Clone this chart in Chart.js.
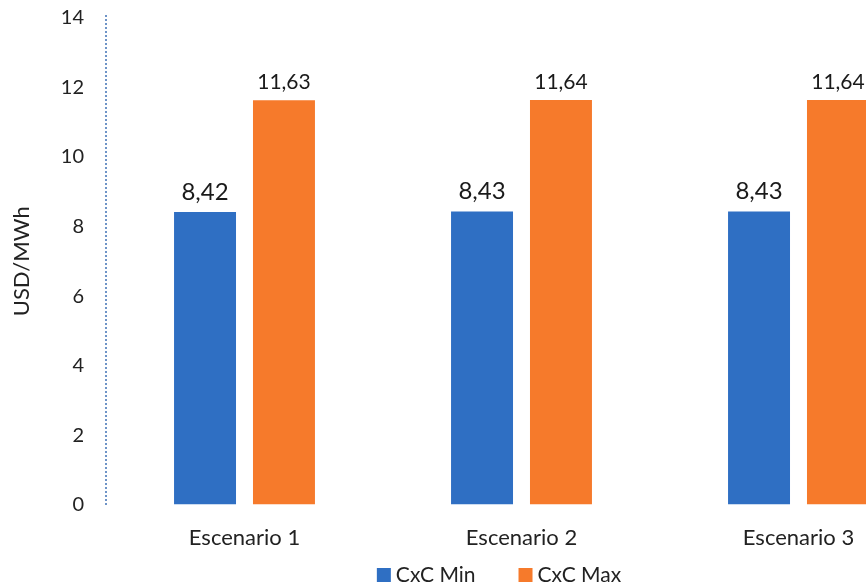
<!DOCTYPE html>
<html><head><meta charset="utf-8">
<script src="https://cdn.jsdelivr.net/npm/chart.js@4.4.0/dist/chart.umd.min.js"></script>
<style>html,body{margin:0;padding:0;overflow:hidden;background:#fff;width:866px;height:586px}canvas{display:block}</style>
</head><body>
<canvas id="c" width="1000" height="586"></canvas>
<script>
const categories = ["Escenario 1", "Escenario 2", "Escenario 3"];
const cxcMin = [8.42, 8.43, 8.43];
const cxcMax = [11.63, 11.64, 11.64];
const seriesNames = ["CxC Min", "CxC Max"];
const yTicks = [0, 2, 4, 6, 8, 10, 12, 14];

const FONT = "Lato, 'Open Sans', sans-serif";
const fmt = v => v.toFixed(2).replace('.', ',');

const labelPlugin = {
  id: 'valLabels',
  afterDatasetsDraw(chart) {
    const ctx = chart.ctx;
    ctx.save();
    ctx.fillStyle = '#1a1a1a';
    ctx.textAlign = 'center';
    ctx.textBaseline = 'middle';
    chart.data.datasets.forEach((ds, di) => {
      const meta = chart.getDatasetMeta(di);
      ctx.font = (di === 0 ? '24px ' : '21px ') + FONT;
      meta.data.forEach((bar, i) => {
        ctx.fillText(fmt(ds.data[i]), bar.x, bar.y - (di === 0 ? 20 : 18));
      });
    });
    ctx.restore();
  }
};

const axisLegendPlugin = {
  id: 'axisLegend',
  afterDraw(chart) {
    const ctx = chart.ctx;
    const y = chart.scales.y;
    ctx.save();
    ctx.strokeStyle = '#3f72b5';
    ctx.lineWidth = 1.5;
    ctx.setLineDash([2, 2]);
    ctx.beginPath();
    ctx.moveTo(y.right, y.top - 3);
    ctx.lineTo(y.right, y.bottom + 2);
    ctx.stroke();
    ctx.setLineDash([]);
    ctx.font = '21px ' + FONT;
    ctx.textBaseline = 'middle';
    ctx.textAlign = 'left';
    const box = 14, gapText = 5, gapItem = 43;
    const items = chart.data.datasets.map(d => ({ text: d.label, color: d.backgroundColor, w: ctx.measureText(d.label).width }));
    const total = items.reduce((s, it) => s + box + gapText + it.w, 0) + gapItem * (items.length - 1);
    let x = 499 - total / 2;
    const cy = 575;
    items.forEach(it => {
      ctx.fillStyle = it.color;
      ctx.fillRect(x, cy - 7, box, 14);
      ctx.fillStyle = '#222';
      ctx.fillText(it.text, x + box + gapText, cy);
      x += box + gapText + it.w + gapItem;
    });
    ctx.restore();
  }
};

new Chart(document.getElementById('c'), {
  type: 'bar',
  data: {
    labels: categories,
    datasets: [
      { label: seriesNames[0], data: cxcMin, backgroundColor: '#2f6fc3' },
      { label: seriesNames[1], data: cxcMax, backgroundColor: '#f67a2b' }
    ]
  },
  options: {
    responsive: false,
    animation: false,
    layout: { padding: { top: 18, right: 63, left: 0, bottom: 15 } },
    datasets: { bar: { categoryPercentage: 0.57, barPercentage: 0.785 } },
    plugins: {
      legend: { display: false },
      tooltip: { enabled: false }
    },
    scales: {
      x: {
        grid: { display: false, drawTicks: false },
        border: { display: false },
        ticks: { font: { family: FONT, size: 22 }, color: '#222', padding: 20, maxRotation: 0 }
      },
      y: {
        min: 0, max: 14,
        afterBuildTicks(s) { s.ticks = yTicks.map(v => ({ value: v })); },
        afterFit(s) { s.width = 106; s.paddingTop = 0; s.paddingBottom = 0; },
        grid: { display: false, drawTicks: false },
        border: { display: false },
        ticks: { font: { family: FONT, size: 20 }, color: '#222', padding: 22 },
        title: { display: true, text: 'USD/MWh', font: { family: FONT, size: 22 }, color: '#222', padding: { top: 9, bottom: 0 } }
      }
    }
  },
  plugins: [labelPlugin, axisLegendPlugin]
});
</script>
</body></html>
